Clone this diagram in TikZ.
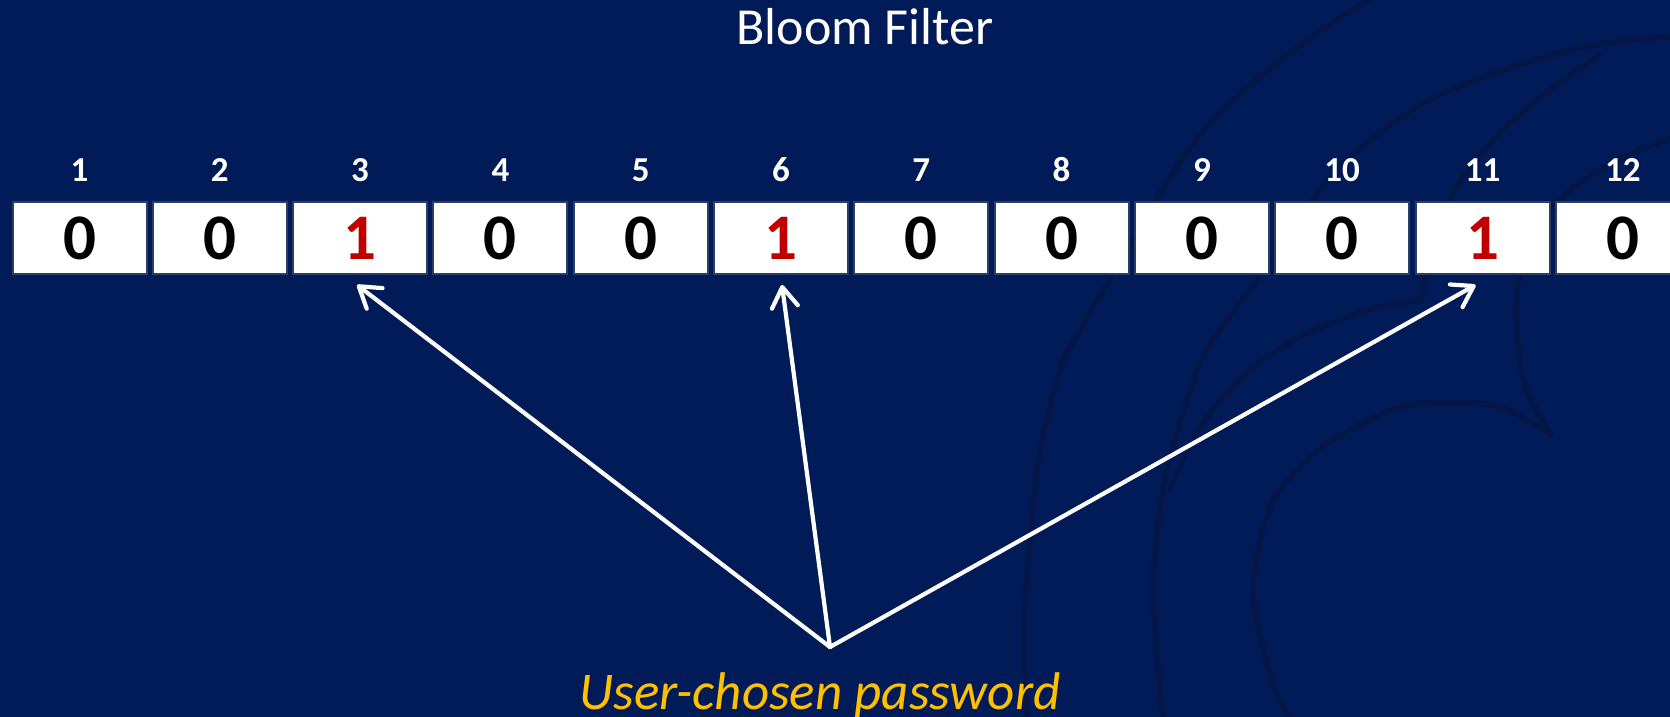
\documentclass[tikz,border=0pt]{standalone}
\usepackage{fontspec}
\setmainfont{Carlito}
\usetikzlibrary{arrows.meta,calc}
\definecolor{bg}{RGB}{1,27,88}
\definecolor{wm}{RGB}{4,23,70}
\definecolor{boxedge}{RGB}{45,62,100}
\definecolor{bitred}{RGB}{192,0,0}
\definecolor{gold}{RGB}{255,192,0}
\tikzset{
  cell/.style={draw=boxedge, line width=2pt, fill=white, minimum width=134pt,
    minimum height=72pt, inner sep=0pt, outer sep=0pt,
    font=\fontsize{65}{70}\selectfont\bfseries},
  idx/.style={text=white, inner sep=0pt, font=\fontsize{35}{40}\selectfont\bfseries},
  titletext/.style={text=white, inner sep=0pt, font=\fontsize{52}{60}\selectfont},
  pwtext/.style={text=gold, inner sep=0pt, font=\fontsize{53}{60}\selectfont\itshape},
  hasharrow/.style={draw=white, line width=4.2pt, line cap=round,
    -{Straight Barb[length=20pt,width=26pt,line width=4.2pt,round]}},
  watermark/.style={draw=wm, line width=5pt, line cap=round}
}
\begin{document}
\begin{tikzpicture}[x=1pt,y=-1pt]
\useasboundingbox (0,0) rectangle (1670,717);
\clip (0,0) rectangle (1670,717);
\fill[bg] (0,0) rectangle (1670,717);
% faint background watermark
\draw[watermark] plot[smooth] coordinates {(1377,-5) (1317,33) (1250,85) (1200,135) (1160,193) (1117,267) (1080,330) (1060,370) (1040,450) (1030,540) (1024,624) (1027,722)};
\draw[watermark] plot[smooth] coordinates {(1675,36) (1583,47) (1483,77) (1417,107) (1350,157) (1300,215) (1257,280) (1227,320) (1203,357) (1180,423) (1163,490) (1153,590) (1163,722)};
\draw[watermark] plot[smooth] coordinates {(1600,55) (1550,90) (1500,133) (1457,187) (1435,240) (1425,277) (1421,300)};
\draw[watermark] plot[smooth] coordinates {(1421,300) (1367,310) (1300,337) (1250,370) (1210,413) (1185,455) (1170,490)};
\draw[watermark] plot[smooth] coordinates {(1675,136) (1617,160) (1567,193) (1530,240) (1517,300) (1523,380) (1551,434)};
\draw[watermark] plot[smooth] coordinates {(1551,434) (1500,407) (1450,402) (1400,407) (1350,430) (1310,457) (1270,507) (1253,590) (1270,674) (1290,722)};
% title
\node[titletext, anchor=base] (title) at (865,45) {Bloom Filter};
% bit array
\foreach \i/\v/\c in {1/0/black,2/0/black,3/1/bitred,4/0/black,5/0/black,6/1/bitred,7/0/black,8/0/black,9/0/black,10/0/black,11/1/bitred,12/0/black} {
  \node[cell, text=\c] (b\i) at ({79.5+(\i-1)*140.3},238) {\v};
  \node[idx, anchor=base] (n\i) at ({79.5+(\i-1)*140.3},181) {\i};
}
% password and hash arrows
\node[pwtext, anchor=base] (pw) at (820,709) {User-chosen password};
\coordinate (src) at (830,647);
\coordinate (t3) at ($(b3.south)+(-3,11)$);
\coordinate (t6) at ($(b6.south)+(1,11)$);
\coordinate (t11) at ($(b11.south)+(-7,11)$);
\draw[hasharrow] (src) -- (t3);
\draw[hasharrow] (src) -- (t6);
\draw[hasharrow] (src) -- (t11);
\end{tikzpicture}
\end{document}
